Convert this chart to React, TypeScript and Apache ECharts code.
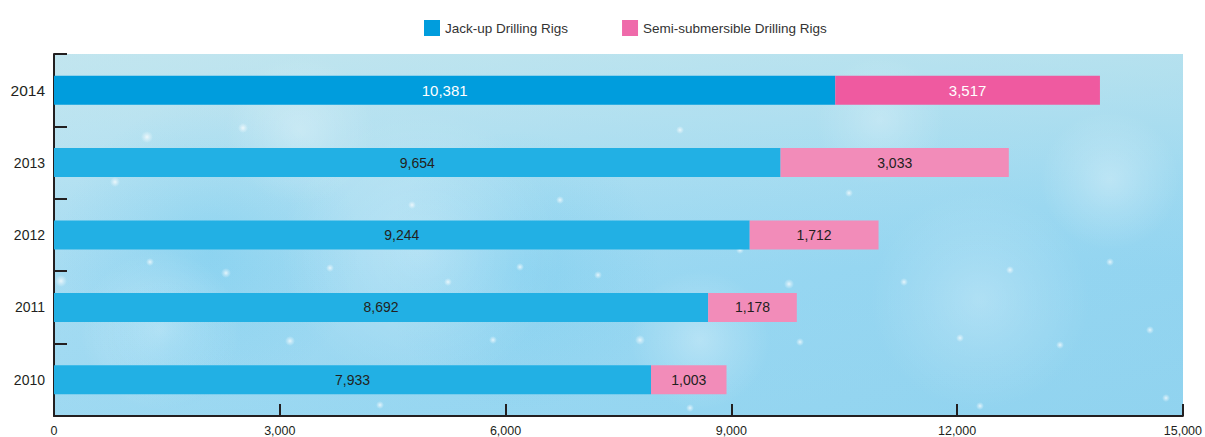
import React, { useEffect, useRef } from "react";
import * as echarts from "echarts";

const years = ["2010", "2011", "2012", "2013", "2014"];
const jackUp = [7933, 8692, 9244, 9654, 10381];
const semiSub = [1003, 1178, 1712, 3033, 3517];
const seriesNames = ["Jack-up Drilling Rigs", "Semi-submersible Drilling Rigs"];

// Latest year is highlighted with stronger colours and white labels
const jackColors = ["#22b0e4", "#22b0e4", "#22b0e4", "#22b0e4", "#009ddd"];
const semiColors = ["#f28cb9", "#f28cb9", "#f28cb9", "#f28cb9", "#ef5aa0"];
const labelColors = ["#231f20", "#231f20", "#231f20", "#231f20", "#ffffff"];

const FONT = "'Liberation Sans', Arial, Helvetica, sans-serif";
const GRID = { left: 54, right: 22, top: 54, bottom: 21 };

// broad soft glows in the icy backdrop: [x, y, radius, alpha]
const glows: [number, number, number, number][] = [
  [160, 330, 80, 0.3],
  [420, 250, 140, 0.25],
  [700, 340, 70, 0.3],
  [980, 300, 110, 0.25],
  [1110, 180, 70, 0.3],
  [300, 130, 75, 0.25],
  [880, 120, 65, 0.25],
];

// deeper blue patches in the lower-left of the backdrop: [x, y, radius, alpha]
const shades: [number, number, number, number][] = [
  [210, 250, 150, 0.22],
  [520, 270, 140, 0.18],
  [170, 345, 65, 0.15],
];

// small glints scattered across the backdrop: [x, y, radius]
const glints: [number, number, number][] = [
  [61, 281, 6], [115, 182, 5], [150, 262, 4], [147, 137, 6], [226, 273, 5],
  [243, 128, 5], [290, 341, 5], [330, 268, 4], [412, 205, 4], [448, 282, 4],
  [493, 340, 4], [520, 267, 4], [560, 200, 4], [598, 275, 4], [640, 340, 5],
  [690, 408, 4], [740, 250, 4], [789, 284, 5], [800, 342, 4], [849, 193, 4],
  [904, 282, 4], [960, 338, 4], [1010, 270, 4], [1060, 345, 4], [1110, 262, 4],
  [1150, 330, 4], [380, 405, 4], [980, 406, 4], [1166, 398, 4], [680, 130, 4],
];

export default function App() {
  const ref = useRef<HTMLDivElement>(null);

  useEffect(() => {
    document.body.style.margin = "0";
    const chart = echarts.init(ref.current!, null, { renderer: "svg" });

    const label = (i: number) => ({
      show: true,
      position: "inside",
      color: labelColors[i],
      fontSize: i === 4 ? 15 : 14,
      fontFamily: FONT,
      formatter: (p: any) => Number(p.value).toLocaleString("en-US"),
    });

    const plotW = 1205 - GRID.left - GRID.right;
    const plotH = 437 - GRID.top - GRID.bottom;

    const softDot = (cx: number, cy: number, r: number, rgb: string, a: number, z: number) => ({
      type: "circle",
      z,
      silent: true,
      shape: { cx, cy, r },
      style: {
        fill: new echarts.graphic.RadialGradient(0.5, 0.5, 0.5, [
          { offset: 0, color: `rgba(${rgb},${a})` },
          { offset: 0.45, color: `rgba(${rgb},${a * 0.5})` },
          { offset: 1, color: `rgba(${rgb},0)` },
        ]),
      },
    });

    chart.setOption({
      animation: false,
      backgroundColor: "#ffffff",
      textStyle: { fontFamily: FONT },
      graphic: [
        {
          type: "rect",
          z: -10,
          silent: true,
          shape: { x: GRID.left, y: GRID.top, width: plotW, height: plotH },
          style: {
            fill: new echarts.graphic.LinearGradient(0, 0, 1, 1, [
              { offset: 0, color: "#bde4f3" },
              { offset: 0.35, color: "#a6dcf2" },
              { offset: 0.65, color: "#98d7f1" },
              { offset: 1, color: "#90d3ef" },
            ]),
          },
        },
        {
          type: "rect",
          z: -9,
          silent: true,
          shape: { x: GRID.left, y: GRID.top, width: plotW, height: plotH },
          style: {
            fill: new echarts.graphic.LinearGradient(0, 0, 0, 1, [
              { offset: 0, color: "rgba(196,230,236,0.6)" },
              { offset: 0.35, color: "rgba(196,230,236,0.15)" },
              { offset: 0.6, color: "rgba(130,205,240,0.1)" },
              { offset: 1, color: "rgba(150,212,240,0.1)" },
            ]),
          },
        },
        ...shades.map(([cx, cy, r, a]) => softDot(cx, cy, r, "60,185,235", a, -8.5)),
        ...glows.map(([cx, cy, r, a]) => softDot(cx, cy, r, "255,255,255", a, -8)),
        ...glints.map(([cx, cy, r]) => softDot(cx, cy, r, "255,255,255", 0.75, -7)),
      ],
      legend: {
        top: 15,
        left: 419,
        itemWidth: 16,
        itemHeight: 16,
        itemGap: 54,
        icon: "rect",
        textStyle: { fontSize: 13.5, color: "#333333", fontFamily: FONT },
        data: [
          { name: seriesNames[0], itemStyle: { color: "#009ddd" } },
          { name: seriesNames[1], itemStyle: { color: "#ef6aaa" } },
        ],
      },
      grid: { ...GRID, containLabel: false },
      xAxis: {
        type: "value",
        min: 0,
        max: 15000,
        interval: 3000,
        axisLine: { show: true, lineStyle: { color: "#231f20", width: 2 } },
        axisTick: { show: true, inside: true, length: 12, lineStyle: { color: "#231f20", width: 2 } },
        splitLine: { show: false },
        axisLabel: {
          color: "#231f20",
          fontSize: 12.5,
          margin: 8,
          fontFamily: FONT,
          formatter: (v: number) => v.toLocaleString("en-US"),
        },
      },
      yAxis: {
        type: "category",
        data: years,
        axisLine: { show: true, lineStyle: { color: "#231f20", width: 2 } },
        axisTick: { show: true, inside: true, length: 13, lineStyle: { color: "#231f20", width: 2 } },
        axisLabel: {
          color: "#231f20",
          margin: 9,
          fontFamily: FONT,
          formatter: (v: string) => (v === "2014" ? `{hi|${v}}` : `{n|${v}}`),
          rich: {
            hi: { fontSize: 15.5, color: "#231f20", fontFamily: FONT },
            n: { fontSize: 14, color: "#231f20", fontFamily: FONT },
          },
        },
        splitLine: { show: false },
      },
      series: [
        {
          name: seriesNames[0],
          type: "bar",
          stack: "rigs",
          barWidth: 29,
          itemStyle: { color: "#22b0e4" },
          data: jackUp.map((v, i) => ({
            value: v,
            itemStyle: { color: jackColors[i] },
            label: label(i),
          })),
        },
        {
          name: seriesNames[1],
          type: "bar",
          stack: "rigs",
          barWidth: 29,
          itemStyle: { color: "#f28cb9" },
          data: semiSub.map((v, i) => ({
            value: v,
            itemStyle: { color: semiColors[i] },
            label: label(i),
          })),
        },
      ],
    });

    return () => chart.dispose();
  }, []);

  return <div ref={ref} style={{ width: 1205, height: 437 }} />;
}
